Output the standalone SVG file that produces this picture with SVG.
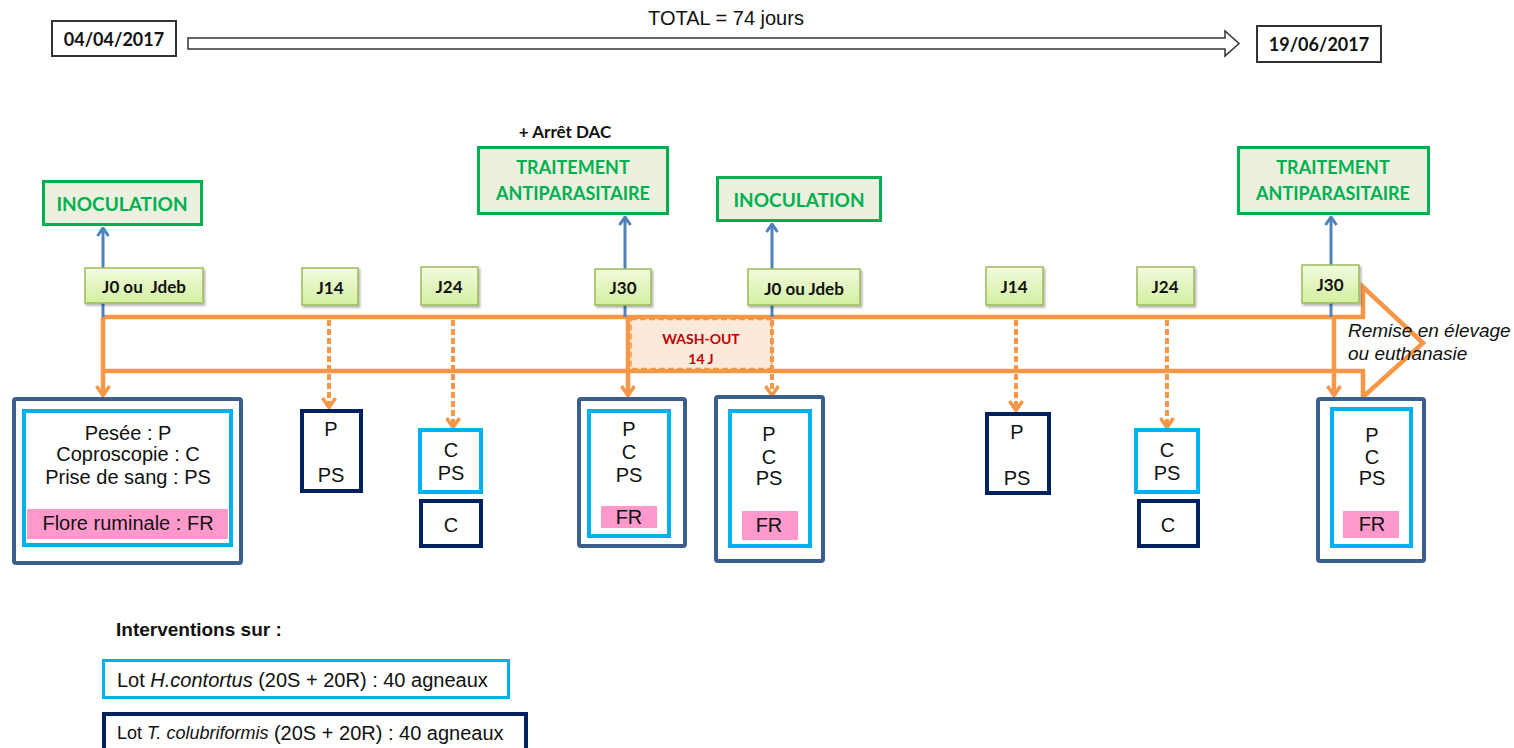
<svg xmlns="http://www.w3.org/2000/svg" width="1514" height="748" viewBox="0 0 1514 748">
<defs>
<style>
.cal{font-family:Lato,"Liberation Sans",sans-serif;font-weight:bold}
.ar{font-family:"Liberation Sans",Arial,sans-serif}
.date{fill:#fff;stroke:#333;stroke-width:2}
.green{fill:#EBF1DE;stroke:#00B050;stroke-width:3}
.gtxt{fill:#00B050;font-size:19px;text-anchor:middle;dominant-baseline:central}
.jbox{fill:url(#jg);stroke:#9BBB59;stroke-width:1.5;filter:url(#sh)}
.jtxt{fill:#111;font-size:17px;text-anchor:middle;dominant-baseline:central}
.outer{fill:#fff;stroke:#3B5E8C;stroke-width:4}
.lb{fill:#fff;stroke:#00B0F0;stroke-width:4}
.nv{fill:#fff;stroke:#002060;stroke-width:4}
.pink{fill:#FF99CC}
.bt{fill:#111;font-size:20px;text-anchor:middle;dominant-baseline:central}
.blue{stroke:#4F81BD;stroke-width:3;fill:none;marker-end:url(#ab)}
.or{stroke:#F79646;stroke-width:4.5;fill:none;marker-end:url(#ao)}
.ord{stroke:#F79646;stroke-width:4;fill:none;stroke-dasharray:6 3;marker-end:url(#ao)}
</style>
<linearGradient id="jg" x1="0" y1="0" x2="0" y2="1">
<stop offset="0" stop-color="#F2FBDF"/>
<stop offset="1" stop-color="#D3EFA0"/>
</linearGradient>
<filter id="sh" x="-20%" y="-20%" width="140%" height="150%">
<feDropShadow dx="1.5" dy="2" stdDeviation="1.2" flood-color="#000" flood-opacity="0.3"/>
</filter>
<marker id="ao" viewBox="0 0 12 16" refX="11" refY="8" markerWidth="12" markerHeight="16" markerUnits="userSpaceOnUse" orient="auto">
<path d="M1,1.5 L10.5,8 L1,14.5" fill="none" stroke="#F79646" stroke-width="3.5"/>
</marker>
<marker id="ab" viewBox="0 0 10 14" refX="9" refY="7" markerWidth="10" markerHeight="14" markerUnits="userSpaceOnUse" orient="auto">
<path d="M1,1.5 L9,7 L1,12.5" fill="none" stroke="#4F81BD" stroke-width="3"/>
</marker>
</defs>
<rect width="1514" height="748" fill="#fff"/>

<g id="header">
<text class="ar" x="726" y="18" font-size="20" text-anchor="middle" dominant-baseline="central" fill="#111">TOTAL = 74 jours</text>
<polygon points="188,38 1225,38 1225,31 1239,43.5 1225,56 1225,49 188,49" fill="#fff" stroke="#333" stroke-width="1.5"/>
</g>
<g id="date-start">
<rect class="date" x="52" y="21" width="124" height="35"/>
<text class="cal" x="114" y="39" font-size="18" text-anchor="middle" dominant-baseline="central" fill="#111">04/04/2017</text>
</g>
<g id="date-end">
<rect class="date" x="1257" y="26" width="124" height="36"/>
<text class="cal" x="1319" y="44" font-size="18" text-anchor="middle" dominant-baseline="central" fill="#111">19/06/2017</text>
</g>

<g id="timeline">
<path d="M103,317 H1363 V287 L1423,343 L1363,397 V371 H103" fill="none" stroke="#F79646" stroke-width="4.5" stroke-linejoin="miter"/>
</g>
<g id="washout">
<rect x="631" y="319.5" width="141" height="49" fill="#FDE9D9" stroke="#F79646" stroke-width="1.5" stroke-dasharray="6 3"/>
<text class="cal" x="701" y="338" font-size="14" text-anchor="middle" dominant-baseline="central" fill="#C00000">WASH-OUT</text>
<text class="cal" x="701" y="358" font-size="14" text-anchor="middle" dominant-baseline="central" fill="#C00000">14 J</text>
</g>
<g id="remise">
<text class="ar" x="1348" y="330" font-size="19" font-style="italic" dominant-baseline="central" fill="#111">Remise en élevage</text>
<text class="ar" x="1348" y="353" font-size="19" font-style="italic" dominant-baseline="central" fill="#111">ou euthanasie</text>
</g>

<g id="connectors">
<line class="blue" x1="103" y1="317" x2="103" y2="228"/>
<line class="blue" x1="625" y1="317" x2="625" y2="217"/>
<line class="blue" x1="772" y1="317" x2="772" y2="224"/>
<line class="blue" x1="1331" y1="317" x2="1331" y2="217"/>
<line class="or" x1="103" y1="317" x2="103" y2="396"/>
<line class="or" x1="628" y1="317" x2="628" y2="396"/>
<line class="or" x1="1334" y1="317" x2="1334" y2="396"/>
<line class="ord" x1="329" y1="320" x2="329" y2="408"/>
<line class="ord" x1="453" y1="320" x2="453" y2="428"/>
<line class="ord" x1="772" y1="320" x2="772" y2="396"/>
<line class="ord" x1="1016" y1="320" x2="1016" y2="411"/>
<line class="ord" x1="1167" y1="320" x2="1167" y2="428"/>
</g>

<g id="inoc1">
<rect class="green" x="43.5" y="181.5" width="158" height="43"/>
<text class="cal gtxt" x="122" y="203">INOCULATION</text>
</g>
<g id="trait1">
<text class="cal" x="565" y="131" font-size="17" text-anchor="middle" dominant-baseline="central" fill="#111">+ Arrêt DAC</text>
<rect class="green" x="478.5" y="147.5" width="189" height="66"/>
<text class="cal gtxt" x="573" y="167" style="font-size:18px">TRAITEMENT</text>
<text class="cal gtxt" x="573" y="193" style="font-size:18px">ANTIPARASITAIRE</text>
</g>
<g id="inoc2">
<rect class="green" x="717.5" y="177.5" width="163" height="43"/>
<text class="cal gtxt" x="799" y="199">INOCULATION</text>
</g>
<g id="trait2">
<rect class="green" x="1238.5" y="147.5" width="190" height="66"/>
<text class="cal gtxt" x="1333" y="167" style="font-size:18px">TRAITEMENT</text>
<text class="cal gtxt" x="1333" y="193" style="font-size:18px">ANTIPARASITAIRE</text>
</g>

<g id="j0-1"><rect class="jbox" x="85" y="268" width="118" height="35"/><text class="cal jtxt" x="144" y="286" xml:space="preserve">J0 ou  Jdeb</text></g>
<g id="j14-1"><rect class="jbox" x="302" y="268" width="56" height="37"/><text class="cal jtxt" x="330" y="287">J14</text></g>
<g id="j24-1"><rect class="jbox" x="421" y="267" width="57" height="38"/><text class="cal jtxt" x="449" y="286">J24</text></g>
<g id="j30-1"><rect class="jbox" x="595" y="269" width="56" height="36"/><text class="cal jtxt" x="623" y="287">J30</text></g>
<g id="j0-2"><rect class="jbox" x="748" y="269" width="112" height="36"/><text class="cal jtxt" x="804" y="288">J0 ou Jdeb</text></g>
<g id="j14-2"><rect class="jbox" x="986" y="267" width="57" height="38"/><text class="cal jtxt" x="1014" y="286">J14</text></g>
<g id="j24-2"><rect class="jbox" x="1137" y="267" width="57" height="38"/><text class="cal jtxt" x="1165" y="286">J24</text></g>
<g id="j30-2"><rect class="jbox" x="1302" y="265" width="57" height="38"/><text class="cal jtxt" x="1330" y="284">J30</text></g>

<g id="box-j0-1">
<rect class="outer" x="14" y="399" width="227" height="164" rx="2"/>
<rect class="lb" x="24" y="411" width="207" height="134"/>
<text class="ar bt" x="128" y="433">Pesée : P</text>
<text class="ar bt" x="128" y="454">Coproscopie : C</text>
<text class="ar bt" x="128" y="477">Prise de sang : PS</text>
<rect class="pink" x="27" y="509" width="201" height="30"/>
<text class="ar bt" x="128" y="523">Flore ruminale : FR</text>
</g>
<g id="box-j14-1">
<rect class="nv" x="302" y="411" width="59" height="80"/>
<text class="ar bt" x="331" y="429">P</text>
<text class="ar bt" x="331" y="475">PS</text>
</g>
<g id="box-j24-1">
<rect class="lb" x="420" y="430" width="61" height="62"/>
<text class="ar bt" x="451" y="450">C</text>
<text class="ar bt" x="451" y="473">PS</text>
<rect class="nv" x="421" y="501" width="60" height="45"/>
<text class="ar bt" x="451" y="525">C</text>
</g>
<g id="box-j30-1">
<rect class="outer" x="579" y="399" width="106" height="147" rx="2"/>
<rect class="lb" x="589" y="411" width="80" height="125"/>
<text class="ar bt" x="629" y="429">P</text>
<text class="ar bt" x="629" y="452">C</text>
<text class="ar bt" x="629" y="475">PS</text>
<rect class="pink" x="601" y="506" width="56" height="22"/>
<text class="ar bt" x="629" y="517">FR</text>
</g>
<g id="box-j0-2">
<rect class="outer" x="716" y="397" width="107" height="164" rx="2"/>
<rect class="lb" x="730" y="411" width="80" height="135"/>
<text class="ar bt" x="769" y="434">P</text>
<text class="ar bt" x="769" y="457">C</text>
<text class="ar bt" x="769" y="478">PS</text>
<rect class="pink" x="742" y="511" width="56" height="29"/>
<text class="ar bt" x="769" y="525">FR</text>
</g>
<g id="box-j14-2">
<rect class="nv" x="987" y="414" width="62" height="79"/>
<text class="ar bt" x="1017" y="432">P</text>
<text class="ar bt" x="1017" y="478">PS</text>
</g>
<g id="box-j24-2">
<rect class="lb" x="1136" y="430" width="62" height="62"/>
<text class="ar bt" x="1167" y="450">C</text>
<text class="ar bt" x="1167" y="473">PS</text>
<rect class="nv" x="1139" y="501" width="59" height="45"/>
<text class="ar bt" x="1168" y="525">C</text>
</g>
<g id="box-j30-2">
<rect class="outer" x="1318" y="399" width="106" height="162" rx="2"/>
<rect class="lb" x="1332" y="409" width="79" height="137"/>
<text class="ar bt" x="1372" y="435">P</text>
<text class="ar bt" x="1372" y="457">C</text>
<text class="ar bt" x="1372" y="478">PS</text>
<rect class="pink" x="1343" y="511" width="56" height="27"/>
<text class="ar bt" x="1372" y="524">FR</text>
</g>

<g id="legend">
<text class="ar" x="116" y="629" font-size="19" font-weight="bold" dominant-baseline="central" fill="#111">Interventions sur :</text>
<rect x="103.5" y="660.5" width="405" height="37" fill="#fff" stroke="#00B0F0" stroke-width="3"/>
<text class="ar" x="117" y="680" font-size="20" dominant-baseline="central" fill="#111">Lot <tspan font-style="italic">H.contortus</tspan> (20S + 20R) : 40 agneaux</text>
<rect x="104" y="714" width="422" height="40" fill="#fff" stroke="#002060" stroke-width="4"/>
<text class="ar" x="117" y="733" font-size="20" dominant-baseline="central" fill="#111"><tspan font-size="18">Lot </tspan><tspan font-style="italic" font-size="18">T. colubriformis</tspan> (20S + 20R) : 40 agneaux</text>
</g>
</svg>
